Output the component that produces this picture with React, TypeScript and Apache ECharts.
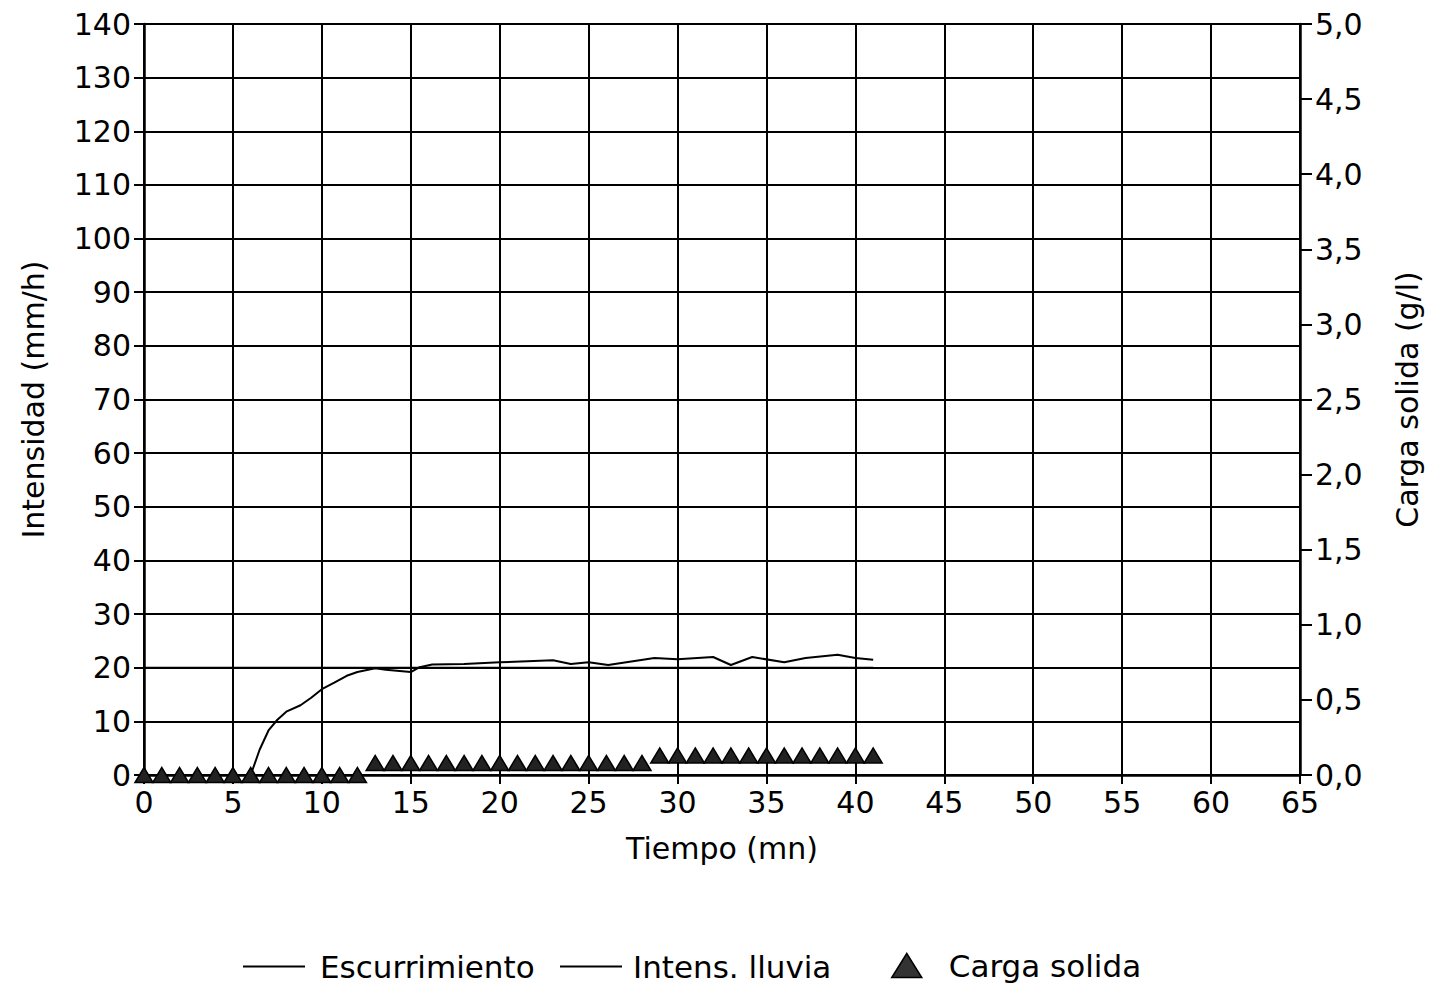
import React, { useEffect, useRef } from "react";
import * as echarts from "echarts";

// Tiempo (mn) / Intensidad (mm/h) — escurrimiento
const runoffTime = [0, 6, 6.5, 7, 7.5, 8, 8.8, 9.4, 10, 10.7, 11.4, 12, 13, 13.6, 15, 15.5, 16.2, 18, 20, 23, 24, 25, 26.1, 28.7, 30, 32, 33, 34.2, 36, 37.2, 39, 40, 41];
const runoffValue = [0, 0, 4.7, 8.3, 10.3, 11.8, 13, 14.4, 16, 17.2, 18.5, 19.2, 19.9, 19.6, 19.2, 20.1, 20.6, 20.7, 21, 21.4, 20.7, 21, 20.5, 21.8, 21.6, 22, 20.5, 22, 21, 21.8, 22.4, 21.8, 21.5];

// Intens. lluvia
const rainTime = [0, 41];
const rainValue = [20, 20];

// Carga solida (g/l)
const sedimentTime = [0, 1, 2, 3, 4, 5, 6, 7, 8, 9, 10, 11, 12, 13, 14, 15, 16, 17, 18, 19, 20, 21, 22, 23, 24, 25, 26, 27, 28, 29, 30, 31, 32, 33, 34, 35, 36, 37, 38, 39, 40, 41];
const sedimentValue = [0, 0, 0, 0, 0, 0, 0, 0, 0, 0, 0, 0, 0, 0.08, 0.08, 0.08, 0.08, 0.08, 0.08, 0.08, 0.08, 0.08, 0.08, 0.08, 0.08, 0.08, 0.08, 0.08, 0.08, 0.13, 0.13, 0.13, 0.13, 0.13, 0.13, 0.13, 0.13, 0.13, 0.13, 0.13, 0.13, 0.13];

const FONT = "DejaVu Sans";

export default function App() {
  const ref = useRef<HTMLDivElement>(null);
  useEffect(() => {
    if (!ref.current) return;
    const chart = echarts.init(ref.current, undefined, { renderer: "svg" });
    const lineAxis = { lineStyle: { color: "#000", width: 2.5 } };
    const option: any = {
      animation: false,
      backgroundColor: "#fff",
      textStyle: { fontFamily: FONT, color: "#000" },
      grid: { left: 144, right: 131, top: 24, bottom: 212, containLabel: false },
      xAxis: {
        type: "value",
        min: 0,
        max: 65,
        interval: 5,
        name: "Tiempo (mn)",
        nameLocation: "middle",
        nameGap: 58,
        nameTextStyle: { fontFamily: FONT, fontSize: 30, color: "#000" },
        axisLine: { show: true, onZero: false, ...lineAxis },
        axisTick: { show: true, inside: false, length: 9, lineStyle: { color: "#000", width: 2 } },
        axisLabel: { fontFamily: FONT, fontSize: 30, color: "#000", margin: 12 },
        splitLine: { show: true, lineStyle: { color: "#000", width: 2 } },
      },
      yAxis: [
        {
          type: "value",
          min: 0,
          max: 140,
          interval: 10,
          position: "left",
          name: "Intensidad (mm/h)",
          nameLocation: "middle",
          nameRotate: 90,
          nameGap: 96,
          nameTextStyle: { fontFamily: FONT, fontSize: 30, color: "#000" },
          axisLine: { show: true, ...lineAxis },
          axisTick: { show: true, inside: false, length: 10, lineStyle: { color: "#000", width: 2 } },
          axisLabel: { fontFamily: FONT, fontSize: 30, color: "#000", margin: 13 },
          splitLine: { show: true, lineStyle: { color: "#000", width: 2 } },
        },
        {
          type: "value",
          min: 0,
          max: 5,
          interval: 0.5,
          position: "right",
          name: "Carga solida (g/l)",
          nameLocation: "middle",
          nameRotate: 90,
          nameGap: 92,
          nameTextStyle: { fontFamily: FONT, fontSize: 30, color: "#000" },
          axisLine: { show: true, ...lineAxis },
          axisTick: { show: true, inside: false, length: 12, lineStyle: { color: "#000", width: 2 } },
          axisLabel: {
            fontFamily: FONT,
            fontSize: 30,
            color: "#000",
            margin: 15,
            formatter: (v: number) => v.toFixed(1).replace(".", ","),
          },
          splitLine: { show: false },
        },
      ],
      legend: [
        {
          data: [{ name: "Escurrimiento", icon: "rect" }],
          left: 238,
          top: 946,
          itemWidth: 62,
          itemHeight: 2,
          itemGap: 18,
          textStyle: { fontFamily: FONT, fontSize: 31, color: "#000", padding: [0, 0, 0, 10] },
        },
        {
          data: [{ name: "Intens. lluvia", icon: "rect" }],
          left: 555,
          top: 946,
          itemWidth: 62,
          itemHeight: 2,
          textStyle: { fontFamily: FONT, fontSize: 31, color: "#000", padding: [0, 0, 0, 6] },
        },
        {
          data: ["Carga solida"],
          left: 886,
          top: 945,
          itemWidth: 30,
          itemHeight: 24,
          itemStyle: { color: "#333", borderColor: "#000", borderWidth: 1.5 },
          textStyle: { fontFamily: FONT, fontSize: 31, color: "#000", padding: [0, 0, 0, 22] },
        },
      ],
      series: [
        {
          name: "Escurrimiento",
          type: "line",
          symbol: "none",
          data: runoffTime.map((t, i) => [t, runoffValue[i]]),
          lineStyle: { color: "#000", width: 2 },
          itemStyle: { color: "#000" },
          z: 3,
        },
        {
          name: "Intens. lluvia",
          type: "line",
          symbol: "none",
          data: rainTime.map((t, i) => [t, rainValue[i]]),
          lineStyle: { color: "#000", width: 2 },
          itemStyle: { color: "#000" },
          z: 3,
        },
        {
          name: "Carga solida",
          type: "scatter",
          yAxisIndex: 1,
          symbol: "triangle",
          symbolSize: [18, 15],
          clip: false,
          data: sedimentTime.map((t, i) => [t, sedimentValue[i]]),
          itemStyle: { color: "#222", borderColor: "#000", borderWidth: 1.5, opacity: 1 },
          z: 4,
        },
      ],
    };
    chart.setOption(option);
    return () => chart.dispose();
  }, []);
  return (
    <div
      ref={ref}
      style={{ position: "fixed", left: 0, top: 0, width: 1431, height: 987, background: "#fff" }}
    />
  );
}
